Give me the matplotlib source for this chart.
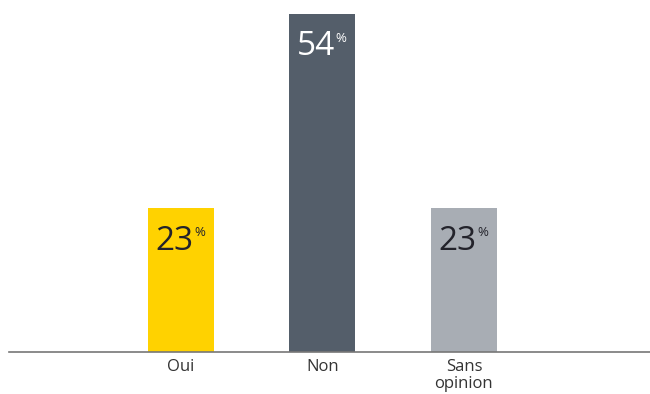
import matplotlib.pyplot as plt

# Réponses au sondage
categories = ['Oui', 'Non', 'Sans\nopinion']
valeurs = [23, 54, 23]
couleurs = ['#FFD200', '#545E6A', '#A8ADB4']
couleurs_texte = ['#23232B', '#FFFFFF', '#23232B']

plt.rcParams['font.family'] = ['Open Sans', 'DejaVu Sans']

fig = plt.figure(figsize=(6.5, 3.94), dpi=100)
ax = fig.add_axes([9 / 650, 42 / 394, 641 / 650, 352 / 394])

x = range(len(categories))
barres = ax.bar(x, valeurs, width=0.466, color=couleurs)

# Valeur en haut de chaque barre, avec le signe % en exposant
for xi, v, c in zip(x, valeurs, couleurs_texte):
    ax.annotate(str(v), xy=(xi, v), xytext=(-4.5, -30), textcoords='offset points',
                ha='center', va='baseline', fontsize=24, color=c)
    ax.annotate('%', xy=(xi, v), xytext=(13.5, -20.5), textcoords='offset points',
                ha='center', va='baseline', fontsize=9.5, color=c)

ax.set_xlim(-1.215, 3.315)
ax.set_ylim(0, 56.2)
ax.set_xticks(list(x))
ax.set_xticklabels(categories, fontsize=12, color='#333333', linespacing=1.05)
ax.tick_params(axis='x', length=0, pad=5)
ax.set_yticks([])
for s in ['top', 'right', 'left']:
    ax.spines[s].set_visible(False)
ax.spines['bottom'].set_color('#777777')
ax.spines['bottom'].set_linewidth(1.2)

plt.savefig('out.png', dpi=100)
